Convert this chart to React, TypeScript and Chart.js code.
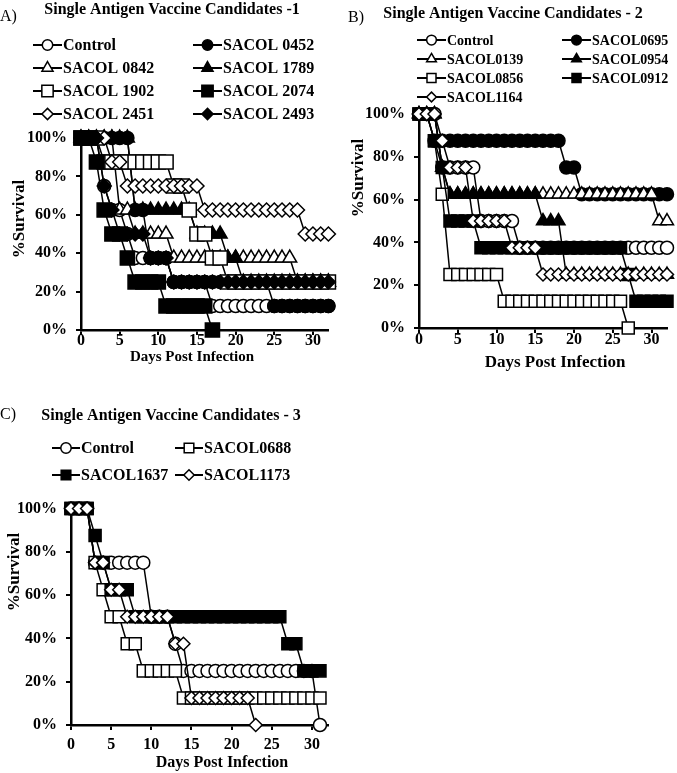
import React, { useEffect, useRef } from "react";
import { Chart, registerables } from "chart.js";

Chart.register(...registerables);

const FONT = "'Liberation Serif', 'Times New Roman', serif";

// ---------- shared axes ----------
const DAYS_AB = [0, 1, 2, 3, 4, 5, 6, 7, 8, 9, 10, 11, 12, 13, 14, 15, 16, 17, 18, 19, 20, 21, 22, 23, 24, 25, 26, 27, 28, 29, 30, 31, 32];
const DAYS_C = [0, 1, 2, 3, 4, 5, 6, 7, 8, 9, 10, 11, 12, 13, 14, 15, 16, 17, 18, 19, 20, 21, 22, 23, 24, 25, 26, 27, 28, 29, 30, 31];
const X_TICKS = [0, 5, 10, 15, 20, 25, 30];
const Y_TICKS = [0, 20, 40, 60, 80, 100];

// ---------- Panel A (% survival per day, days 0..32) ----------
const A_CONTROL = [
  100, 100, 100, 75, 62.5, 62.5, 50, 37.5, 37.5, 37.5, 37.5,
  37.5, 25, 25, 25, 25, 25, 12.5, 12.5, 12.5, 12.5, 12.5,
  12.5, 12.5, 12.5, 12.5, 12.5, 12.5, 12.5, 12.5, 12.5, 12.5, 12.5,
];
const A_0452 = [
  100, 100, 100, 100, 100, 100, 100, 62.5, 62.5, 37.5, 37.5,
  37.5, 25, 25, 25, 25, 25, 25, 25, 25, 25, 25,
  25, 25, 25, 12.5, 12.5, 12.5, 12.5, 12.5, 12.5, 12.5, 12.5,
];
const A_0842 = [
  100, 100, 100, 100, 100, 62.5, 62.5, 50, 50, 50, 50,
  50, 37.5, 37.5, 37.5, 37.5, 37.5, 37.5, 37.5, 37.5, 37.5, 37.5,
  37.5, 37.5, 37.5, 37.5, 37.5, 37.5, 25, 25, 25, 25, 25,
];
const A_1789 = [
  100, 100, 100, 100, 100, 100, 100, 62.5, 62.5, 62.5, 62.5,
  62.5, 62.5, 62.5, 62.5, 50, 50, 50, 50, 37.5, 37.5, 25,
  25, 25, 25, 25, 25, 25, 25, 25, 25, 25, 25,
];
const A_1902 = [
  100, 100, 100, 87.5, 87.5, 87.5, 87.5, 87.5, 87.5, 87.5, 87.5,
  87.5, 75, 75, 62.5, 50, 50, 37.5, 37.5, 25, 25, 25,
  25, 25, 25, 25, 25, 25, 25, 25, 25, 25, 25,
];
const A_2074 = [
  100, 100, 87.5, 62.5, 50, 50, 37.5, 25, 25, 25, 25,
  12.5, 12.5, 12.5, 12.5, 12.5, 12.5, 0, null, null, null, null,
  null, null, null, null, null, null, null, null, null, null, null,
];
const A_2451 = [
  100, 100, 100, 100, 87.5, 87.5, 75, 75, 75, 75, 75,
  75, 75, 75, 75, 75, 62.5, 62.5, 62.5, 62.5, 62.5, 62.5,
  62.5, 62.5, 62.5, 62.5, 62.5, 62.5, 62.5, 50, 50, 50, 50,
];
const A_2493 = [
  100, 100, 100, 75, 62.5, 50, 50, 50, 50, 37.5, 37.5,
  37.5, 25, 25, 25, 25, 25, 25, 25, 25, 25, 25,
  25, 25, 25, 25, 25, 25, 25, 25, 25, 25, 25,
];

// ---------- Panel B (days 0..32) ----------
const B_CONTROL = [
  100, 100, 100, 75, 75, 75, 75, 75, 50, 50, 50,
  50, 50, 37.5, 37.5, 37.5, 37.5, 37.5, 37.5, 37.5, 37.5, 37.5,
  37.5, 37.5, 37.5, 37.5, 37.5, 37.5, 37.5, 37.5, 37.5, 37.5, 37.5,
];
const B_0695 = [
  100, 100, 87.5, 87.5, 87.5, 87.5, 87.5, 87.5, 87.5, 87.5, 87.5,
  87.5, 87.5, 87.5, 87.5, 87.5, 87.5, 87.5, 87.5, 75, 75, 62.5,
  62.5, 62.5, 62.5, 62.5, 62.5, 62.5, 62.5, 62.5, 62.5, 62.5, 62.5,
];
const B_0139 = [
  100, 100, 100, 75, 62.5, 62.5, 62.5, 62.5, 62.5, 62.5, 62.5,
  62.5, 62.5, 62.5, 62.5, 62.5, 62.5, 62.5, 62.5, 62.5, 62.5, 62.5,
  62.5, 62.5, 62.5, 62.5, 62.5, 62.5, 62.5, 62.5, 62.5, 50, 50,
];
const B_0954 = [
  100, 100, 100, 75, 62.5, 62.5, 62.5, 62.5, 62.5, 62.5, 62.5,
  62.5, 62.5, 62.5, 62.5, 62.5, 50, 50, 50, 25, 25, 25,
  25, 25, 25, 25, 25, 25, 25, 25, 25, 25, 25,
];
const B_0856 = [
  100, 100, 87.5, 62.5, 25, 25, 25, 25, 25, 25, 25,
  12.5, 12.5, 12.5, 12.5, 12.5, 12.5, 12.5, 12.5, 12.5, 12.5, 12.5,
  12.5, 12.5, 12.5, 12.5, 12.5, 0, null, null, null, null, null,
];
const B_0912 = [
  100, 100, 87.5, 75, 50, 50, 50, 50, 37.5, 37.5, 37.5,
  37.5, 37.5, 37.5, 37.5, 37.5, 37.5, 37.5, 37.5, 37.5, 37.5, 37.5,
  37.5, 37.5, 37.5, 37.5, 37.5, 25, 12.5, 12.5, 12.5, 12.5, 12.5,
];
const B_1164 = [
  100, 100, 100, 87.5, 75, 75, 75, 50, 50, 50, 50,
  50, 37.5, 37.5, 37.5, 37.5, 25, 25, 25, 25, 25, 25,
  25, 25, 25, 25, 25, 25, 25, 25, 25, 25, 25,
];

// ---------- Panel C (days 0..31) ----------
const C_CONTROL = [
  100, 100, 100, 75, 75, 75, 75, 75, 75, 75, 50,
  50, 50, 37.5, 25, 25, 25, 25, 25, 25, 25, 25,
  25, 25, 25, 25, 25, 25, 25, 25, 25, 0,
];
const C_0688 = [
  100, 100, 100, 75, 62.5, 50, 50, 37.5, 37.5, 25, 25,
  25, 25, 25, 12.5, 12.5, 12.5, 12.5, 12.5, 12.5, 12.5, 12.5,
  12.5, 12.5, 12.5, 12.5, 12.5, 12.5, 12.5, 12.5, 12.5, 12.5,
];
const C_1637 = [
  100, 100, 100, 87.5, 75, 62.5, 62.5, 62.5, 50, 50, 50,
  50, 50, 50, 50, 50, 50, 50, 50, 50, 50, 50,
  50, 50, 50, 50, 50, 37.5, 37.5, 25, 25, 25,
];
const C_1173 = [
  100, 100, 100, 75, 75, 62.5, 62.5, 50, 50, 50, 50,
  50, 50, 37.5, 37.5, 12.5, 12.5, 12.5, 12.5, 12.5, 12.5, 12.5,
  12.5, 0, null, null, null, null, null, null, null, null,
];

type Shape = "circle" | "rect" | "triangle" | "rectRot";
type Series = { name: string; data: (number | null)[]; shape: Shape; filled: boolean };

type PanelDef = {
  left: number; top: number; width: number; height: number;
  padding: { left: number; right: number; top: number; bottom: number };
  yAxisWidth: number; xAxisHeight: number;
  xMax: number;
  labels: number[];
  series: Series[];
  radius: Record<Shape, number>;
  letter: { text: string; x: number; y: number; size: number };
  title: { text: string; x: number; y: number; size: number };
  legend: { cols: number[]; rows: number[]; lineW: number; size: number; mScale: number };
  xTitle: { x: number; y: number; size: number };
  yTitle: { x: number; y: number; size: number };
  tickSize: number;
  xTickPad: number;
};

const PANELS: PanelDef[] = [
  {
    left: 0, top: 0, width: 340, height: 375,
    padding: { left: 21, right: 11.6, top: 138, bottom: 5 },
    yAxisWidth: 60, xAxisHeight: 40, xMax: 32,
    labels: DAYS_AB,
    series: [
      { name: "Control", data: A_CONTROL, shape: "circle", filled: false },
      { name: "SACOL 0452", data: A_0452, shape: "circle", filled: true },
      { name: "SACOL 0842", data: A_0842, shape: "triangle", filled: false },
      { name: "SACOL 1789", data: A_1789, shape: "triangle", filled: true },
      { name: "SACOL 1902", data: A_1902, shape: "rect", filled: false },
      { name: "SACOL 2074", data: A_2074, shape: "rect", filled: true },
      { name: "SACOL 2451", data: A_2451, shape: "rectRot", filled: false },
      { name: "SACOL 2493", data: A_2493, shape: "rectRot", filled: true },
    ],
    radius: { circle: 6.5, rect: 10, triangle: 8, rectRot: 7 },
    letter: { text: "A)", x: 0, y: 17, size: 16 },
    title: { text: "Single Antigen Vaccine Candidates -1", x: 172, y: 9, size: 16 },
    legend: { cols: [33, 193], rows: [45, 68, 91, 114], lineW: 29, size: 16, mScale: 0.8 },
    xTitle: { x: 192, y: 357, size: 15 },
    yTitle: { x: 20, y: 219, size: 17 },
    tickSize: 16,
    xTickPad: -4,
  },
  {
    left: 340, top: 0, width: 337, height: 375,
    padding: { left: 19, right: 8.4, top: 114, bottom: 7 },
    yAxisWidth: 60, xAxisHeight: 40, xMax: 32,
    labels: DAYS_AB,
    series: [
      { name: "Control", data: B_CONTROL, shape: "circle", filled: false },
      { name: "SACOL0695", data: B_0695, shape: "circle", filled: true },
      { name: "SACOL0139", data: B_0139, shape: "triangle", filled: false },
      { name: "SACOL0954", data: B_0954, shape: "triangle", filled: true },
      { name: "SACOL0856", data: B_0856, shape: "rect", filled: false },
      { name: "SACOL0912", data: B_0912, shape: "rect", filled: true },
      { name: "SACOL1164", data: B_1164, shape: "rectRot", filled: false },
    ],
    radius: { circle: 6.5, rect: 8.5, triangle: 7.5, rectRot: 6.5 },
    letter: { text: "B)", x: 8, y: 18, size: 16 },
    title: { text: "Single Antigen Vaccine Candidates - 2", x: 173, y: 13, size: 16 },
    legend: { cols: [77, 222], rows: [40, 59, 78, 97], lineW: 29, size: 14, mScale: 0.75 },
    xTitle: { x: 215, y: 363, size: 17 },
    yTitle: { x: 19, y: 178, size: 17 },
    tickSize: 16,
    xTickPad: -3,
  },
  {
    left: 0, top: 390, width: 340, height: 383,
    padding: { left: 11, right: 12, top: 118.5, bottom: 8 },
    yAxisWidth: 60, xAxisHeight: 40, xMax: 32,
    labels: DAYS_C,
    series: [
      { name: "Control", data: C_CONTROL, shape: "circle", filled: false },
      { name: "SACOL0688", data: C_0688, shape: "rect", filled: false },
      { name: "SACOL1637", data: C_1637, shape: "rect", filled: true },
      { name: "SACOL1173", data: C_1173, shape: "rectRot", filled: false },
    ],
    radius: { circle: 6.5, rect: 8.5, triangle: 7.5, rectRot: 6.5 },
    letter: { text: "C)", x: 0, y: 25, size: 16 },
    title: { text: "Single Antigen Vaccine Candidates - 3", x: 171, y: 25, size: 16 },
    legend: { cols: [52, 175], rows: [58, 85], lineW: 28, size: 16, mScale: 0.8 },
    xTitle: { x: 222, y: 373, size: 16 },
    yTitle: { x: 15, y: 182, size: 17 },
    tickSize: 16,
    xTickPad: 5,
  },
];

function drawMarker(ctx: CanvasRenderingContext2D, shape: Shape, x: number, y: number, r: number, filled: boolean) {
  ctx.save();
  ctx.beginPath();
  if (shape === "circle") {
    ctx.arc(x, y, r, 0, Math.PI * 2);
  } else if (shape === "rect") {
    const s = r * Math.SQRT1_2;
    ctx.rect(x - s, y - s, 2 * s, 2 * s);
  } else if (shape === "triangle") {
    ctx.moveTo(x, y - r);
    ctx.lineTo(x + r * Math.sin((2 * Math.PI) / 3), y - r * Math.cos((2 * Math.PI) / 3));
    ctx.lineTo(x + r * Math.sin((4 * Math.PI) / 3), y - r * Math.cos((4 * Math.PI) / 3));
    ctx.closePath();
  } else {
    ctx.moveTo(x, y - r);
    ctx.lineTo(x + r, y);
    ctx.lineTo(x, y + r);
    ctx.lineTo(x - r, y);
    ctx.closePath();
  }
  ctx.fillStyle = filled ? "#000" : "#fff";
  ctx.fill();
  ctx.lineWidth = 1.5;
  ctx.strokeStyle = "#000";
  ctx.stroke();
  ctx.restore();
}

function makeDecor(p: PanelDef) {
  return {
    id: "decor",
    afterDraw(chart: any) {
      const ctx: CanvasRenderingContext2D = chart.ctx;
      ctx.save();
      ctx.fillStyle = "#000";
      ctx.textBaseline = "middle";
      // panel letter
      ctx.font = `${p.letter.size}px ${FONT}`;
      ctx.textAlign = "left";
      ctx.fillText(p.letter.text, p.letter.x, p.letter.y);
      // title
      ctx.font = `bold ${p.title.size}px ${FONT}`;
      ctx.textAlign = "center";
      ctx.fillText(p.title.text, p.title.x, p.title.y + 1);
      // legend
      ctx.font = `bold ${p.legend.size}px ${FONT}`;
      p.series.forEach((s, i) => {
        const lx = p.legend.cols[i % 2];
        const y = p.legend.rows[Math.floor(i / 2)];
        ctx.beginPath();
        ctx.moveTo(lx, y);
        ctx.lineTo(lx + p.legend.lineW, y);
        ctx.lineWidth = 2;
        ctx.strokeStyle = "#000";
        ctx.stroke();
        drawMarker(ctx, s.shape, lx + p.legend.lineW / 2, y, p.radius[s.shape] * p.legend.mScale, s.filled);
        ctx.fillStyle = "#000";
        ctx.textAlign = "left";
        ctx.fillText(s.name, lx + p.legend.lineW + 1, y + 1);
      });
      // axis titles
      ctx.font = `bold ${p.xTitle.size}px ${FONT}`;
      ctx.textAlign = "center";
      ctx.fillText("Days Post Infection", p.xTitle.x, p.xTitle.y);
      ctx.save();
      ctx.translate(p.yTitle.x, p.yTitle.y);
      ctx.rotate(-Math.PI / 2);
      ctx.font = `bold ${p.yTitle.size}px ${FONT}`;
      ctx.fillText("%Survival", 0, 0);
      ctx.restore();
      ctx.restore();
    },
  };
}

function Panel({ p }: { p: PanelDef }) {
  const ref = useRef<HTMLCanvasElement | null>(null);
  useEffect(() => {
    if (!ref.current) return;
    const n = p.series.length;
    const chart = new Chart(ref.current, {
      type: "line",
      data: {
        labels: p.labels,
        datasets: p.series.map((s, i) => ({
          label: s.name,
          data: s.data,
          borderColor: "#000",
          borderWidth: 1.5,
          pointStyle: s.shape,
          pointRadius: p.radius[s.shape],
          pointBorderWidth: 1.5,
          pointBorderColor: "#000",
          pointBackgroundColor: s.filled ? "#000" : "#fff",
          tension: 0,
          clip: false,
          spanGaps: false,
          order: n - i,
        })),
      } as any,
      options: {
        animation: false,
        responsive: false,
        events: [],
        layout: { padding: p.padding },
        plugins: { legend: { display: false }, tooltip: { enabled: false }, title: { display: false } },
        scales: {
          x: {
            type: "linear",
            min: 0,
            max: p.xMax,
            afterBuildTicks: (s: any) => { s.ticks = X_TICKS.map((v) => ({ value: v })); },
            afterFit: (s: any) => { s.height = p.xAxisHeight; },
            grid: { display: true, drawOnChartArea: false, drawTicks: true, tickLength: 5, color: "#000", lineWidth: 2 },
            border: { display: true, color: "#000", width: 2.5 },
            ticks: { font: { family: FONT, size: p.tickSize, weight: "bold" }, color: "#000", padding: p.xTickPad, maxRotation: 0, autoSkip: false },
          },
          y: {
            type: "linear",
            min: 0,
            max: 100,
            afterBuildTicks: (s: any) => { s.ticks = Y_TICKS.map((v) => ({ value: v })); },
            afterFit: (s: any) => { s.width = p.yAxisWidth; },
            grid: { display: true, drawOnChartArea: false, drawTicks: true, tickLength: 5, color: "#000", lineWidth: 2 },
            border: { display: true, color: "#000", width: 2.5 },
            ticks: { font: { family: FONT, size: p.tickSize, weight: "bold" }, color: "#000", padding: 9, callback: (v: any) => `${v}%` },
          },
        },
      } as any,
      plugins: [makeDecor(p)],
    });
    return () => chart.destroy();
  }, [p]);
  return (
    <canvas
      ref={ref}
      width={p.width}
      height={p.height}
      style={{ position: "absolute", left: p.left, top: p.top, width: p.width, height: p.height }}
    />
  );
}

export default function App() {
  return (
    <div style={{ position: "absolute", left: 0, top: 0, width: 677, height: 773, background: "#fff" }}>
      {PANELS.map((p, i) => (
        <Panel key={i} p={p} />
      ))}
    </div>
  );
}
